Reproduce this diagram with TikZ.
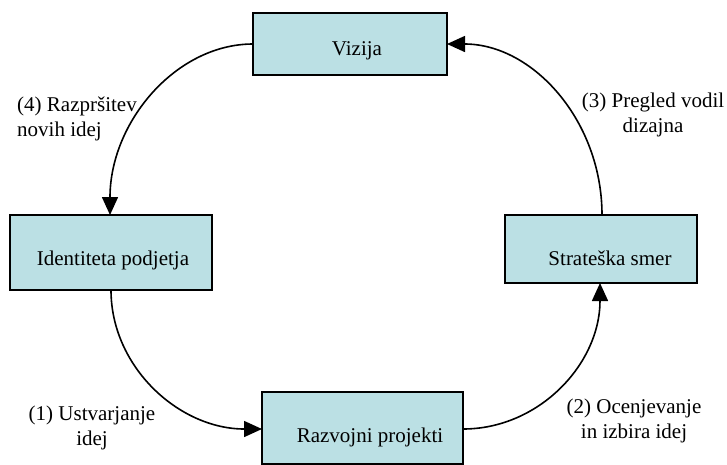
\documentclass[tikz,border=0pt]{standalone}
\usepackage{fontspec}
\setmainfont{Liberation Serif}
\usetikzlibrary{arrows.meta,calc}
\definecolor{boxfill}{RGB}{187,224,228}
\begin{document}
\begin{tikzpicture}[x=1pt,y=-1pt,
  stepbox/.style={draw=black,line width=1.6pt,fill=boxfill,inner sep=0pt,outer sep=0pt},
  boxtext/.style={anchor=base,inner sep=0pt,font=\fontsize{21}{25}\selectfont},
  flowlabel/.style={anchor=base,inner sep=0pt,font=\fontsize{21}{25}\selectfont},
  flow/.style={line width=1.6pt,-{Triangle[length=18pt,width=16pt]}}]
\useasboundingbox (0,0) rectangle (727,464);

% boxes
\node[stepbox,minimum width=194pt,minimum height=62pt] (viz) at (350,44) {};
\node[stepbox,minimum width=202pt,minimum height=75pt] (idp) at (111,252.5) {};
\node[stepbox,minimum width=192pt,minimum height=68pt] (str) at (601,249) {};
\node[stepbox,minimum width=201pt,minimum height=72pt] (raz) at (362.5,428) {};

% box titles
\node[boxtext] (vizt) at (357,55) {Vizija};
\node[boxtext] (idpt) at (113,265) {Identiteta podjetja};
\node[boxtext] (strt) at (610,265) {Strateška smer};
\node[boxtext] (razt) at (370,442) {Razvojni projekti};

% connector end points on the box edges
\coordinate (idpb) at (111,290);
\coordinate (razl) at (262,429);
\coordinate (razr) at (463,429);
\coordinate (strb) at (600,283);
\coordinate (strtop) at (602,215);
\coordinate (vizr) at (447,44);
\coordinate (vizl) at (253,44);
\coordinate (idptop) at (110,215);

\draw[flow] (vizl) .. controls (176,44) and (110,122) .. (idptop);
\draw[flow] (idpb) .. controls (111,367) and (179,429) .. (razl);
\draw[flow] (razr) .. controls (539,429) and (600,364) .. (strb);
\draw[flow] (strtop) .. controls (602,121) and (533,44) .. (vizr);

% step labels (base anchor sits on the last line)
\node[flowlabel,anchor=base west,align=left] (l4) at (17,136) {(4) Razpršitev\\novih idej};
\node[flowlabel,align=center] (l3) at (653,132) {(3) Pregled vodil\\dizajna};
\node[flowlabel,align=center] (l1) at (92,445) {(1) Ustvarjanje\\idej};
\node[flowlabel,align=center] (l2) at (634,438) {(2) Ocenjevanje\\in izbira idej};
\end{tikzpicture}
\end{document}
